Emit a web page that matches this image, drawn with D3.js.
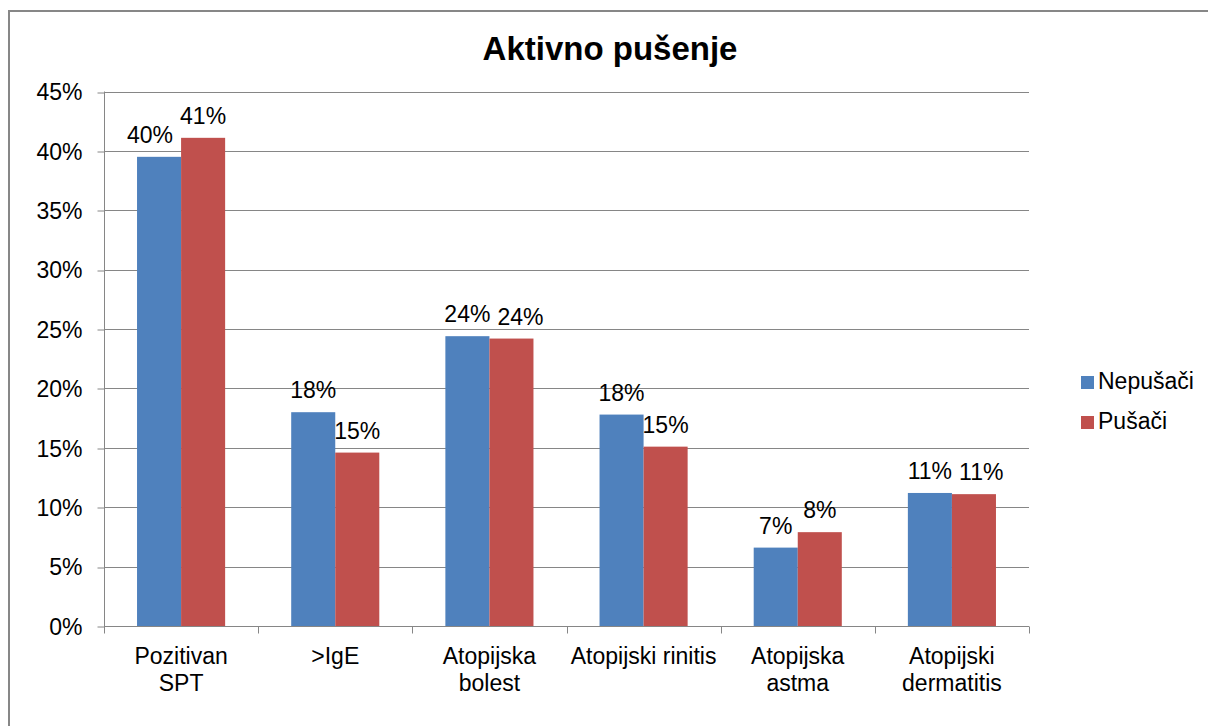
<!DOCTYPE html>
<html>
<head>
    <meta charset="UTF-8" />
    <title>Aktivno pušenje</title>
    <script src="https://d3js.org/d3.v7.min.js"></script>
    <style>
        body { margin: 0; background: #fff; }
        text { font-family: "Liberation Sans", Arial, sans-serif; fill: #000; }
    </style>
</head>
<body>
<div id="main"></div>
<script type="text/javascript">

const categories = [["Pozitivan", "SPT"], [">IgE"], ["Atopijska", "bolest"], ["Atopijski rinitis"], ["Atopijska", "astma"], ["Atopijski", "dermatitis"]]
const nepusaci = [0.395, 0.180, 0.244, 0.178, 0.066, 0.112]
const pusaci = [0.411, 0.146, 0.242, 0.151, 0.079, 0.111]
const seriesNames = ["Nepušači", "Pušači"]
const colours = ["#4F81BD", "#C0504D"]
const yTicks = [0, 0.05, 0.10, 0.15, 0.20, 0.25, 0.30, 0.35, 0.40, 0.45]

const width = 1208
const height = 726
const plotLeft = 104, plotRight = 1029, plotTop = 91.5, plotBottom = 626
const fontSize = 23

const svg = d3.select("#main").append("svg")
  .attr("width", width)
  .attr("height", height)

// chart border (only top and left are visible in the frame)
svg.append("rect")
  .attr("x", 9).attr("y", 11)
  .attr("width", 1300).attr("height", 800)
  .attr("fill", "none")
  .attr("stroke", "#878787")
  .attr("stroke-width", 2)

const keys = categories.map((c, i) => "c" + i)

const x = d3.scaleBand()
  .domain(keys)
  .range([plotLeft, plotRight])

const y = d3.scaleLinear()
  .domain([0, 0.45])
  .range([plotBottom, plotTop])

// gap width 150%
const barW = x.bandwidth() / 3.5
const inner = d3.scaleBand()
  .domain(seriesNames)
  .range([(x.bandwidth() - 2 * barW) / 2, (x.bandwidth() + 2 * barW) / 2])

// gridlines
svg.append("g")
  .selectAll("line").data(yTicks.slice(1)).enter().append("line")
  .attr("x1", plotLeft).attr("x2", plotRight)
  .attr("y1", d => Math.round(y(d)) + 0.5).attr("y2", d => Math.round(y(d)) + 0.5)
  .attr("stroke", "#868686")

// y axis
const yAxis = svg.append("g")
  .attr("transform", `translate(${plotLeft + 0.5},0)`)
  .call(d3.axisLeft(y).tickValues(yTicks).tickFormat(d3.format(".0%")).tickSize(7).tickPadding(15))
yAxis.select(".domain").attr("stroke", "#868686").attr("d", `M0,${plotTop}V${plotBottom}`)
yAxis.selectAll(".tick line").attr("stroke", "#868686")
  .attr("transform", d => `translate(0,${Math.round(y(d)) + 0.5 - y(d)})`)
yAxis.selectAll(".tick text").attr("font-size", fontSize).attr("dy", "0.36em")
  .style("font-family", '"Liberation Sans", Arial, sans-serif')

// x axis
const xAxis = svg.append("g")
  .attr("transform", `translate(0,${plotBottom + 0.5})`)
  .call(d3.axisBottom(x).tickValues([]).tickSizeOuter(0))
xAxis.select(".domain").attr("stroke", "#868686").attr("d", `M${plotLeft},0H${plotRight}`)
xAxis.selectAll("line.sep").data(d3.range(keys.length + 1)).enter().append("line")
  .attr("class", "sep")
  .attr("x1", i => Math.round(plotLeft + i * x.step()) + 0.5)
  .attr("x2", i => Math.round(plotLeft + i * x.step()) + 0.5)
  .attr("y1", 0).attr("y2", 7)
  .attr("stroke", "#868686")

// category labels
const catLabels = svg.append("g").selectAll("text").data(categories).enter().append("text")
  .attr("text-anchor", "middle")
  .attr("font-size", fontSize)
  .attr("x", (d, i) => x(keys[i]) + x.bandwidth() / 2)
  .attr("y", 664)
catLabels.selectAll("tspan").data(d => d).enter().append("tspan")
  .attr("x", function () { return this.parentNode.getAttribute("x") })
  .attr("dy", (d, i) => i === 0 ? 0 : 27)
  .text(d => d)

// bars
const rows = keys.map((k, i) => ({ key: k, values: [nepusaci[i], pusaci[i]] }))
const groups = svg.append("g").selectAll("g").data(rows).enter().append("g")
  .attr("transform", d => `translate(${x(d.key)},0)`)

groups.selectAll("rect").data(d => d.values.map((v, j) => ({ v, s: seriesNames[j], j })))
  .enter().append("rect")
  .attr("x", d => inner(d.s))
  .attr("width", barW)
  .attr("y", d => y(d.v))
  .attr("height", d => plotBottom - y(d.v))
  .attr("fill", d => colours[d.j])

groups.selectAll("text").data(d => d.values.map((v, j) => ({ v, s: seriesNames[j] })))
  .enter().append("text")
  .attr("text-anchor", "middle")
  .attr("font-size", fontSize)
  .attr("x", d => inner(d.s) + barW / 2)
  .attr("y", d => y(d.v) - 14)
  .text(d => d3.format(".0%")(d.v))

// push the lower label sideways when the two labels of a pair collide
groups.each(function () {
  const t = d3.select(this).selectAll("text").nodes()
  const [a, b] = t
  const ya = +a.getAttribute("y"), yb = +b.getAttribute("y")
  if (Math.abs(ya - yb) >= fontSize) return
  const xa = +a.getAttribute("x"), xb = +b.getAttribute("x")
  const need = a.getComputedTextLength() / 2 + b.getComputedTextLength() / 2 + 7
  const short = need - (xb - xa)
  if (short <= 0) return
  if (ya >= yb) a.setAttribute("x", xa - short)
  else b.setAttribute("x", xb + short)
})

// title
svg.append("text")
  .attr("x", 610).attr("y", 60)
  .attr("text-anchor", "middle")
  .attr("font-size", 33)
  .attr("font-weight", "bold")
  .text("Aktivno pušenje")

// legend
const legend = svg.append("g").selectAll("g").data(seriesNames).enter().append("g")
  .attr("transform", (d, i) => `translate(1081,${376 + i * 40})`)
legend.append("rect")
  .attr("width", 13).attr("height", 13)
  .attr("fill", (d, i) => colours[i])
legend.append("text")
  .attr("x", 17).attr("y", 13)
  .attr("font-size", fontSize)
  .text(d => d)

</script>
</body>
</html>
